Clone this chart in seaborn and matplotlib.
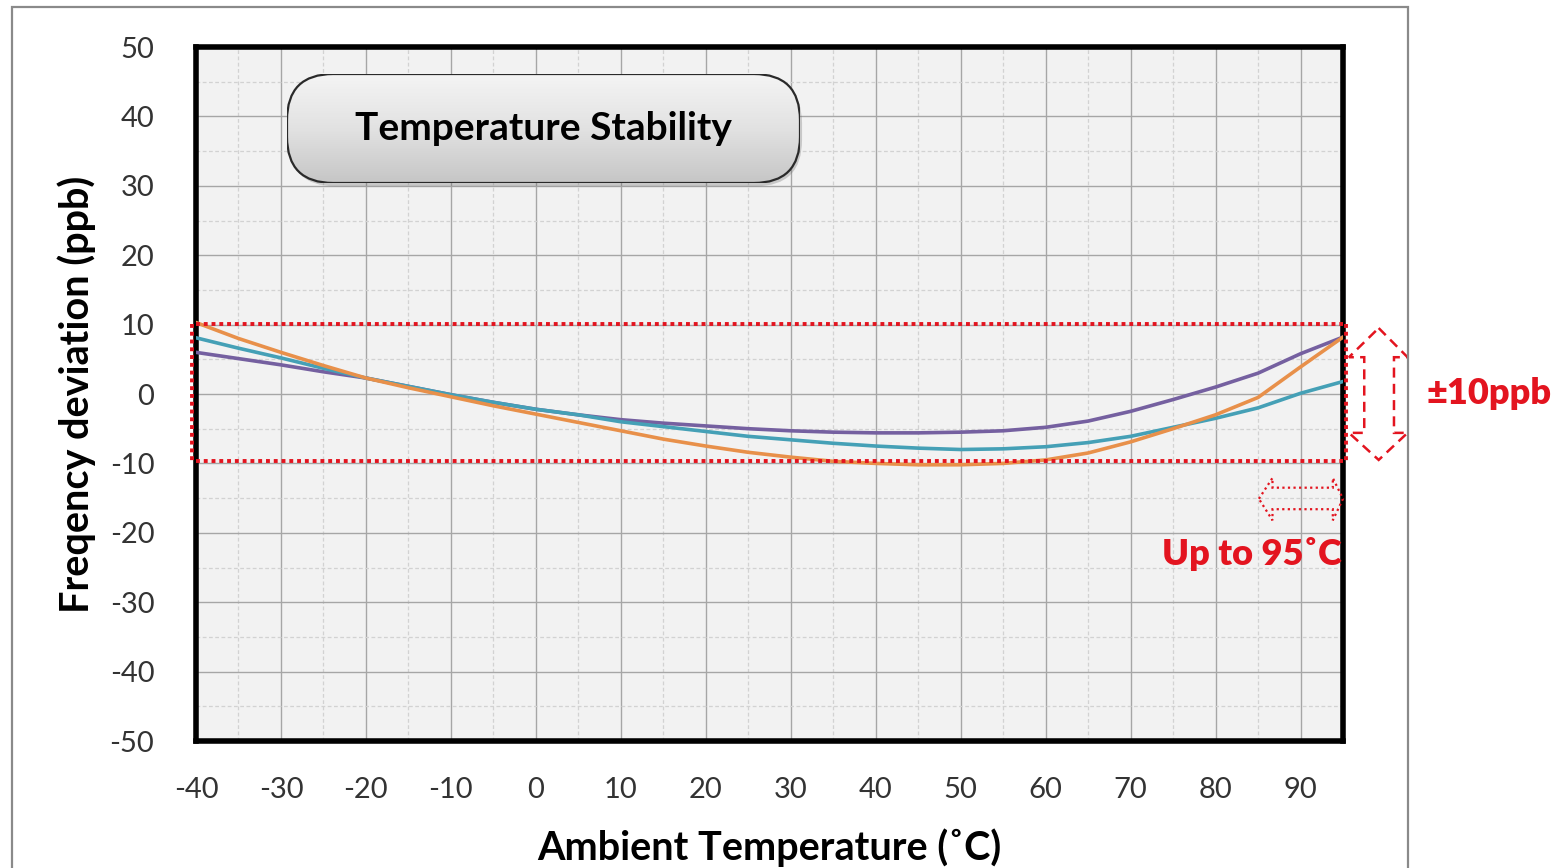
import numpy as np
import pandas as pd
import matplotlib
matplotlib.use("Agg")
import matplotlib.pyplot as plt
import seaborn as sns
from matplotlib.patches import FancyBboxPatch, Polygon, Rectangle

# ---- data ----
temps = [-40, -35, -30, -25, -20, -15, -10, -5, 0, 5, 10, 15, 20, 25, 30,
         35, 40, 45, 50, 55, 60, 65, 70, 75, 80, 85, 90, 95]
purple_vals = [6.0, 5.1, 4.2, 3.2, 2.3, 1.1, -0.1, -1.2, -2.2, -3.0, -3.7, -4.2,
               -4.6, -5.0, -5.3, -5.5, -5.6, -5.6, -5.5, -5.3, -4.8, -3.9, -2.5,
               -0.8, 1.0, 3.0, 5.8, 8.2]
teal_vals = [8.1, 6.6, 5.2, 3.7, 2.3, 1.1, -0.1, -1.2, -2.2, -3.0, -4.0, -4.7,
             -5.4, -6.1, -6.6, -7.1, -7.5, -7.8, -8.0, -7.9, -7.6, -7.0, -6.1,
             -4.8, -3.5, -2.0, 0.1, 1.8]
orange_vals = [10.3, 8.0, 6.0, 4.1, 2.3, 0.9, -0.4, -1.7, -2.9, -4.1, -5.3, -6.5,
               -7.5, -8.4, -9.1, -9.7, -10.0, -10.2, -10.2, -10.0, -9.5, -8.5,
               -6.9, -5.0, -3.0, -0.5, 3.9, 8.2]
series_names = ["Unit 1", "Unit 2", "Unit 3"]
series_colors = ["#7560a0", "#45a0b6", "#e8904a"]
x_ticks = [-40, -30, -20, -10, 0, 10, 20, 30, 40, 50, 60, 70, 80, 90]
y_ticks = [-50, -40, -30, -20, -10, 0, 10, 20, 30, 40, 50]
spec_limits = [10.1, -9.7]

df = pd.DataFrame({
    "temp": temps * 3,
    "ppb": purple_vals + teal_vals + orange_vals,
    "series": [series_names[0]] * len(temps) + [series_names[1]] * len(temps)
              + [series_names[2]] * len(temps),
})

sns.set_theme(style="white")
plt.rcParams['font.family'] = ['Lato', 'DejaVu Sans']
plt.rcParams['axes.unicode_minus'] = False

W, H = 1563, 868
fig = plt.figure(figsize=(W / 100, H / 100), dpi=100)
ax = fig.add_axes([196 / W, 1 - 741 / H, (1343 - 196) / W, (741 - 47) / H])
ax.set_zorder(0)

sns.lineplot(data=df, x="temp", y="ppb", hue="series",
             palette=dict(zip(series_names, series_colors)),
             linewidth=2.6, legend=False, ax=ax, zorder=4)

ax.set_xlim(-40, 95)
ax.set_ylim(-50, 50)
ax.set_xticks(x_ticks)
ax.set_yticks(y_ticks)
ax.set_xticks(np.arange(-35, 96, 10), minor=True)
ax.set_yticks(np.arange(-45, 46, 10), minor=True)
ax.set_facecolor("#f2f2f2")
ax.set_axisbelow(True)
ax.grid(which="major", color="#a6a6a6", linewidth=1.0)
ax.grid(which="minor", color="#d2d2d2", linewidth=0.9, linestyle=(0, (3, 2)))
ax.tick_params(which="both", length=0)
ax.tick_params(axis="y", pad=30, labelsize=21, labelcolor="#333333")
ax.tick_params(axis="x", pad=26, labelsize=21, labelcolor="#333333")
for s in ax.spines.values():
    s.set_visible(True)
    s.set_color("black")
    s.set_linewidth(4)

ax.set_xlabel("Ambient Temperature (˚C)", fontsize=28.5, fontweight="bold",
              color="black", labelpad=18)
ax.set_ylabel("Freqency deviation (ppb)", fontsize=28.5, fontweight="bold",
              color="black", labelpad=10)

# red dotted spec box
red = "#e3141f"
dot = dict(color=red, linewidth=2.8, linestyle=(0, (1, 1)), clip_on=False,
           zorder=6, solid_capstyle="butt", dash_capstyle="butt")
for yv in spec_limits:
    ax.plot([-40, 95], [yv, yv], **dot)
ax.plot([-40.45, -40.45], spec_limits, **dot)
ax.plot([95.35, 95.35], spec_limits, **dot)

# vertical double arrow (dashed outline)
varrow = [(99.2, 9.5), (102.6, 5.3), (101.0, 5.3), (101.0, -5.6), (102.6, -5.6),
          (99.2, -9.5), (95.7, -5.6), (97.5, -5.6), (97.5, 5.3), (95.7, 5.3)]
ax.add_patch(Polygon(varrow, closed=True, fill=False, edgecolor=red,
                     linewidth=1.8, linestyle=(0, (4, 2.5)), clip_on=False,
                     zorder=6))
# horizontal double arrow (dotted outline)
harrow = [(85.1, -15.1), (86.7, -12.1), (86.7, -13.5), (93.8, -13.5), (93.8, -12.1),
          (95.0, -15.1), (93.8, -18.2), (93.8, -16.6), (86.7, -16.6), (86.7, -18.2)]
ax.add_patch(Polygon(harrow, closed=True, fill=False, edgecolor=red,
                     linewidth=1.6, linestyle=(0, (1, 1.5)), clip_on=False,
                     zorder=6))

ax.text(112.2, 0.1, "±10ppb", color=red, fontsize=26, fontweight="heavy",
        ha="center", va="center", clip_on=False)
ax.text(84.3, -23.1, "Up to 95˚C", color=red, fontsize=26, fontweight="heavy",
        ha="center", va="center", clip_on=False, zorder=7)

# title box with gradient
bx0, bx1, by0, by1 = 287, 800, 74, 183
fx0, fy0 = bx0 / W, 1 - by1 / H
fw, fh = (bx1 - bx0) / W, (by1 - by0) / H
tax = fig.add_axes([fx0, fy0, fw, fh])
tax.set_zorder(2)
tax.set_axis_off()
shadow = FancyBboxPatch((0.004, -0.03), 1, 1,
                        boxstyle="round,pad=0,rounding_size=0.09",
                        transform=tax.transAxes, facecolor="#6a6a6a",
                        edgecolor="none", alpha=0.3, clip_on=False,
                        mutation_aspect=(fw * W) / (fh * H), zorder=0)
tax.add_patch(shadow)
grad = np.linspace(0, 1, 100).reshape(-1, 1)
im = tax.imshow(grad, cmap=matplotlib.colors.LinearSegmentedColormap.from_list(
    "g", ["#f4f4f4", "#e2e2e2", "#c6c6c6"]), aspect="auto", extent=[0, 1, 0, 1],
    origin="upper", zorder=1)
clip = FancyBboxPatch((0, 0), 1, 1, boxstyle="round,pad=0,rounding_size=0.09",
                      transform=tax.transAxes, facecolor="none",
                      edgecolor="#2a2a2a", linewidth=1.6, zorder=2,
                      mutation_aspect=(fw * W) / (fh * H))
tax.add_patch(clip)
im.set_clip_path(clip)
tax.set_xlim(0, 1)
tax.set_ylim(0, 1)
tax.text(0.5, 0.5, "Temperature Stability", fontsize=28, fontweight="bold",
         color="black", ha="center", va="center", transform=tax.transAxes,
         zorder=3)

# outer frame
fig.patches.append(Rectangle((12 / W, -0.05), (1408 - 12) / W, 1.05 - 7 / H,
                             transform=fig.transFigure, fill=False,
                             edgecolor="#8a8a8a", linewidth=1.6, zorder=3))

fig.savefig("out.png", dpi=100, facecolor="white")
